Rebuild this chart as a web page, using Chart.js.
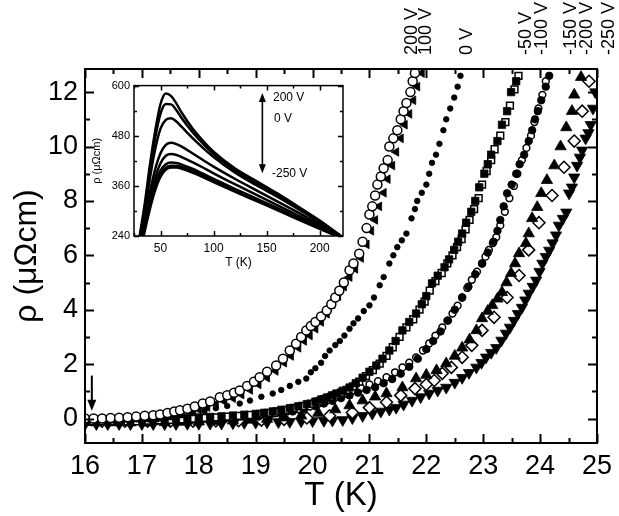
<!DOCTYPE html>
<html>
<head>
<meta charset="utf-8">
<script src="https://cdn.jsdelivr.net/npm/chart.js@4.4.1/dist/chart.umd.min.js"></script>
<style>
  html, body { margin: 0; padding: 0; background: #fff; }
  #wrap { position: relative; width: 619px; height: 516px; }
  #main { position: absolute; left: 0; top: 0; }
  #inset { position: absolute; left: 90px; top: 75px; }
</style>
</head>
<body>
<div id="wrap">
  <canvas id="main" width="619" height="516"></canvas>
  <canvas id="inset" width="260" height="200"></canvas>
</div>
<script>
const FONT = "'Liberation Sans', Arial, sans-serif";

// main panel: rho (uOhm cm) vs T (K), one list of [T, rho] per gate voltage
const s200 = [[16.0,0.0],[16.15,0.0],[16.3,0.0],[16.45,0.02],[16.6,0.03],[16.75,0.05],[16.9,0.07],[17.05,0.1],[17.2,0.12],[17.32,0.15],[17.45,0.2],[17.57,0.26],[17.67,0.3],[17.8,0.36],[17.93,0.44],[18.07,0.55],[18.2,0.63],[18.37,0.78],[18.5,0.86],[18.62,0.95],[18.72,1.03],[18.85,1.2],[18.97,1.35],[19.07,1.52],[19.2,1.72],[19.36,1.95],[19.48,2.2],[19.6,2.5],[19.71,2.75],[19.8,3.0],[19.89,3.24],[19.97,3.4],[20.05,3.55],[20.15,3.75],[20.25,3.97],[20.33,4.2],[20.4,4.45],[20.47,4.7],[20.55,5.0],[20.65,5.45],[20.72,5.7],[20.82,6.06],[20.88,6.5],[20.95,7.0],[21.0,7.5],[21.05,7.8],[21.1,8.2],[21.14,8.6],[21.2,8.9],[21.25,9.2],[21.32,9.5],[21.35,10.0],[21.42,10.3],[21.49,10.6],[21.55,11.0],[21.6,11.3],[21.65,11.6],[21.72,12.0],[21.76,12.4],[21.8,12.7]];
const s100 = [[16.05,-0.1],[16.2,-0.1],[16.35,-0.1],[16.5,-0.08],[16.65,-0.07],[16.8,-0.05],[16.95,-0.03],[17.1,0.0],[17.25,0.03],[17.4,0.07],[17.55,0.12],[17.7,0.18],[17.85,0.25],[18.0,0.33],[18.15,0.42],[18.3,0.52],[18.45,0.63],[18.6,0.75],[18.75,0.88],[18.9,1.05],[19.05,1.25],[19.2,1.5],[19.35,1.75],[19.5,2.05],[19.62,2.3],[19.75,2.6],[19.85,2.85],[19.95,3.05],[20.05,3.3],[20.15,3.55],[20.25,3.85],[20.35,4.2],[20.45,4.5],[20.55,4.85],[20.65,5.2],[20.75,5.5],[20.85,5.9],[20.95,6.4],[21.03,6.9],[21.1,7.3],[21.17,7.8],[21.25,8.3],[21.32,8.8],[21.4,9.3],[21.47,9.8],[21.55,10.3],[21.62,10.8],[21.7,11.2],[21.77,11.7],[21.84,12.2],[21.92,12.7]];
const s0 = [[16.1,-0.05],[16.3,-0.05],[16.5,-0.05],[16.7,-0.04],[16.9,-0.03],[17.1,-0.02],[17.3,0.0],[17.5,0.05],[17.7,0.12],[17.9,0.2],[18.1,0.28],[18.3,0.38],[18.5,0.46],[18.72,0.55],[18.9,0.66],[19.1,0.8],[19.3,0.92],[19.45,1.05],[19.6,1.2],[19.75,1.35],[19.89,1.47],[19.97,1.7],[20.05,1.85],[20.15,2.05],[20.22,2.3],[20.3,2.5],[20.4,2.7],[20.48,2.85],[20.56,3.05],[20.65,3.3],[20.72,3.5],[20.8,3.68],[20.9,3.95],[21.0,4.16],[21.08,4.45],[21.18,4.9],[21.25,5.2],[21.35,5.7],[21.42,6.0],[21.49,6.3],[21.57,6.55],[21.65,6.8],[21.74,7.36],[21.8,7.7],[21.84,8.0],[21.92,8.3],[22.0,8.6],[22.05,9.0],[22.1,9.4],[22.17,9.7],[22.23,10.1],[22.3,10.6],[22.35,11.0],[22.42,11.4],[22.49,11.8],[22.55,12.2],[22.6,12.6]];
const sm50a = [[16.0,-0.05],[16.2,-0.05],[16.4,-0.05],[16.6,-0.05],[16.8,-0.05],[17.0,-0.04],[17.2,-0.03],[17.4,-0.02],[17.6,0.0],[17.8,0.02],[18.0,0.04],[18.2,0.06],[18.4,0.08],[18.6,0.11],[18.8,0.14],[19.0,0.17],[19.15,0.21],[19.3,0.26],[19.45,0.32],[19.6,0.38],[19.75,0.45],[19.9,0.53],[20.05,0.62],[20.15,0.7],[20.25,0.77],[20.34,0.85],[20.42,0.92],[20.53,1.02],[20.65,1.14],[20.76,1.3],[20.88,1.5],[21.0,1.72],[21.12,1.95],[21.23,2.2],[21.35,2.5],[21.46,2.85],[21.58,3.24],[21.7,3.55],[21.82,3.86],[21.92,4.2],[22.0,4.5],[22.1,4.97],[22.2,5.25],[22.32,5.56],[22.4,5.85],[22.49,6.2],[22.56,6.5],[22.63,6.8],[22.7,7.2],[22.79,7.6],[22.86,8.0],[22.93,8.5],[23.02,9.0],[23.08,9.35],[23.14,9.7],[23.25,10.2],[23.33,10.8],[23.42,11.3],[23.49,12.0],[23.58,12.4]];
const sm50b = [[16.1,-0.1],[16.3,-0.1],[16.5,-0.1],[16.7,-0.1],[16.9,-0.1],[17.1,-0.08],[17.3,-0.07],[17.5,-0.05],[17.7,-0.03],[17.9,0.0],[18.1,0.02],[18.3,0.04],[18.5,0.07],[18.7,0.1],[18.9,0.13],[19.08,0.17],[19.22,0.21],[19.37,0.26],[19.52,0.32],[19.67,0.39],[19.82,0.46],[19.97,0.55],[20.1,0.63],[20.2,0.71],[20.3,0.78],[20.4,0.86],[20.5,0.95],[20.6,1.05],[20.71,1.18],[20.82,1.36],[20.94,1.56],[21.06,1.78],[21.18,2.02],[21.3,2.3],[21.41,2.62],[21.53,3.0],[21.65,3.35],[21.77,3.65],[21.88,4.0],[21.97,4.3],[22.06,4.7],[22.16,5.05],[22.27,5.35],[22.37,5.7],[22.46,6.0],[22.54,6.3],[22.62,6.6],[22.69,6.95],[22.76,7.3],[22.84,7.7],[22.92,8.1],[22.98,8.6],[23.06,9.1],[23.14,9.5],[23.2,9.9],[23.3,10.4],[23.39,10.9],[23.47,11.5],[23.55,12.1],[23.62,12.6]];
const sm100a = [[16.05,-0.12],[16.25,-0.12],[16.45,-0.12],[16.65,-0.12],[16.85,-0.12],[17.05,-0.11],[17.25,-0.1],[17.45,-0.1],[17.65,-0.09],[17.85,-0.08],[18.05,-0.06],[18.25,-0.04],[18.45,-0.02],[18.65,0.0],[18.85,0.03],[19.05,0.07],[19.25,0.12],[19.45,0.18],[19.65,0.26],[19.85,0.35],[20.05,0.45],[20.2,0.55],[20.35,0.65],[20.5,0.75],[20.65,0.85],[20.8,0.95],[20.95,1.05],[21.1,1.15],[21.25,1.3],[21.4,1.45],[21.55,1.65],[21.7,1.9],[21.85,2.2],[22.0,2.55],[22.12,2.85],[22.25,3.2],[22.38,3.6],[22.5,4.0],[22.63,4.45],[22.74,4.85],[22.86,5.3],[22.98,5.7],[23.08,6.1],[23.18,6.5],[23.25,6.9],[23.3,7.3],[23.36,7.8],[23.42,8.28],[23.5,8.6],[23.58,9.0],[23.64,9.35],[23.72,9.7],[23.8,10.2],[23.86,10.6],[23.91,11.0],[23.96,11.3],[24.02,11.7],[24.1,12.2],[24.16,12.6]];
const sm100b = [[16.15,-0.05],[16.35,-0.05],[16.55,-0.05],[16.75,-0.05],[16.95,-0.05],[17.15,-0.04],[17.35,-0.04],[17.55,-0.03],[17.75,-0.02],[17.95,-0.01],[18.15,0.0],[18.35,0.02],[18.55,0.04],[18.75,0.07],[18.95,0.1],[19.15,0.14],[19.35,0.19],[19.55,0.26],[19.75,0.34],[19.95,0.44],[20.1,0.54],[20.25,0.66],[20.4,0.78],[20.55,0.9],[20.7,1.02],[20.85,1.13],[21.0,1.25],[21.15,1.37],[21.3,1.52],[21.45,1.7],[21.58,1.88],[21.7,2.05],[21.82,2.25],[21.94,2.5],[22.05,2.76],[22.16,3.05],[22.28,3.35],[22.37,3.6],[22.46,3.86],[22.55,4.15],[22.63,4.45],[22.72,4.8],[22.8,5.1],[22.89,5.4],[22.98,5.7],[23.04,5.95],[23.1,6.2],[23.17,6.45],[23.23,6.67],[23.3,7.1],[23.38,7.6],[23.46,8.1],[23.54,8.55],[23.6,9.0],[23.68,9.5],[23.76,9.95],[23.84,10.4],[23.9,10.9],[23.97,11.4],[24.04,11.9],[24.1,12.4]];
const sm150 = [[16.2,-0.15],[16.5,-0.15],[16.8,-0.15],[17.1,-0.15],[17.4,-0.14],[17.7,-0.13],[18.0,-0.12],[18.3,-0.1],[18.6,-0.08],[18.9,-0.05],[19.2,-0.02],[19.5,0.03],[19.8,0.1],[20.1,0.2],[20.4,0.33],[20.65,0.48],[20.88,0.66],[21.1,0.8],[21.3,0.92],[21.58,1.14],[21.82,1.47],[22.0,1.6],[22.18,1.77],[22.35,2.02],[22.5,2.3],[22.63,2.6],[22.76,2.9],[22.88,3.24],[22.98,3.68],[23.08,3.95],[23.16,4.16],[23.25,4.4],[23.33,4.64],[23.41,5.0],[23.49,5.34],[23.56,5.7],[23.63,6.07],[23.75,6.44],[23.8,6.8],[23.86,7.36],[23.95,7.77],[24.02,8.28],[24.12,8.76],[24.25,9.3],[24.36,10.0],[24.46,10.7],[24.56,11.3],[24.6,11.9],[24.72,12.55]];
const sm200 = [[16.3,-0.1],[16.7,-0.1],[17.1,-0.1],[17.5,-0.1],[17.9,-0.1],[18.3,-0.09],[18.7,-0.08],[19.1,-0.06],[19.5,-0.03],[19.9,0.02],[20.3,0.1],[20.7,0.22],[21.0,0.4],[21.3,0.6],[21.55,0.85],[21.8,1.1],[22.0,1.25],[22.14,1.4],[22.28,1.66],[22.44,1.88],[22.63,2.25],[22.8,2.69],[22.98,3.24],[23.19,3.72],[23.42,4.45],[23.63,5.26],[23.8,6.2],[23.98,7.2],[24.21,8.2],[24.42,9.24],[24.6,10.2],[24.74,11.3],[24.86,12.4]];
const sm250 = [[16.0,-0.2],[16.2,-0.2],[16.4,-0.2],[16.6,-0.2],[16.8,-0.2],[17.0,-0.2],[17.2,-0.2],[17.4,-0.2],[17.6,-0.2],[17.8,-0.19],[18.0,-0.19],[18.2,-0.18],[18.4,-0.18],[18.6,-0.17],[18.8,-0.16],[19.0,-0.15],[19.2,-0.14],[19.4,-0.13],[19.6,-0.12],[19.8,-0.1],[20.0,-0.09],[20.2,-0.08],[20.35,-0.07],[20.53,-0.05],[20.7,0.02],[20.88,0.1],[21.05,0.18],[21.2,0.26],[21.35,0.33],[21.47,0.4],[21.6,0.52],[21.75,0.66],[21.9,0.79],[22.05,0.92],[22.2,1.03],[22.35,1.14],[22.5,1.32],[22.63,1.5],[22.75,1.68],[22.88,1.88],[22.97,2.05],[23.05,2.25],[23.14,2.42],[23.23,2.6],[23.32,2.87],[23.4,3.13],[23.47,3.35],[23.54,3.6],[23.61,3.85],[23.68,4.08],[23.74,4.35],[23.8,4.6],[23.87,4.85],[23.93,5.08],[23.99,5.4],[24.04,5.7],[24.1,5.95],[24.16,6.18],[24.22,6.45],[24.28,6.74],[24.33,7.1],[24.4,7.35],[24.46,7.58],[24.51,8.28],[24.56,8.5],[24.6,8.87],[24.65,9.3],[24.7,9.6],[24.74,9.86],[24.8,10.3],[24.85,10.5],[24.89,10.8],[24.93,11.4],[24.97,12.0]];

const yTickVals = [0, 2, 4, 6, 8, 10, 12];

// voltage labels above the frame, anchored at the T where each curve leaves the top
const voltLabels = ['200 V', '100 V', '0 V', '-50 V', '-100 V', '-150 V', '-200 V', '-250 V'];
const voltLabelT = [21.74, 22.0, 22.72, 23.75, 24.04, 24.54, 24.82, 25.21];

// inset: rho (uOhm cm) vs T (K), 200 V down to -250 V
const insetT = [30, 35, 40, 45, 50, 55, 60, 65, 70, 80, 90, 100, 120, 140, 160, 180, 200, 220];
const c200  = [235, 315, 410, 492, 556, 581, 575, 557, 535, 498, 468, 442, 402, 372, 342, 310, 277, 240];
const c100  = [228, 305, 395, 475, 533, 556, 555, 541, 522, 489, 461, 436, 398, 367, 338, 307, 275, 240];
const c0    = [222, 295, 378, 448, 497, 518, 522, 514, 501, 475, 451, 429, 392, 362, 334, 304, 273, 240];
const cm50  = [210, 280, 345, 400, 438, 458, 463, 460, 454, 438, 422, 406, 377, 350, 323, 296, 268, 240];
const cm100 = [205, 272, 330, 380, 414, 432, 436, 434, 429, 417, 404, 390, 364, 339, 314, 289, 264, 239];
const cm150 = [198, 265, 320, 365, 397, 412, 416, 415, 411, 401, 389, 377, 353, 330, 307, 284, 261, 238];
const cm200 = [192, 258, 312, 357, 389, 404, 408, 408, 405, 395, 384, 372, 349, 327, 304, 281, 259, 237];
const cm250 = [185, 250, 305, 350, 382, 399, 404, 404, 401, 392, 381, 369, 346, 324, 302, 279, 257, 236];
const insetYTicks = [240, 360, 480, 600];

function pts(arr) { return arr.map(([x, y]) => ({ x, y })); }

function markers(data, style, radius, filled, rotation) {
  return {
    data: pts(data),
    pointStyle: style,
    pointRadius: radius,
    pointRotation: rotation || 0,
    pointBackgroundColor: filled ? '#000' : '#fff',
    pointBorderColor: '#000',
    pointBorderWidth: filled ? 0.8 : 1.5,
    showLine: false,
    clip: 1
  };
}

function tickMarks(from, to, step, majorEvery) {
  const out = [];
  const n = Math.round((to - from) / step);
  for (let i = 0; i <= n; i++) {
    const v = from + i * step;
    const r = v / majorEvery;
    out.push({ v, major: Math.abs(r - Math.round(r)) < 1e-6 });
  }
  return out;
}

// box around the plot area with ticks pointing inwards on all four sides
function drawFrame(chart, xt, yt, major, minor, lw) {
  const { ctx, chartArea: a, scales: { x, y } } = chart;
  ctx.save();
  ctx.strokeStyle = '#000';
  ctx.lineWidth = lw;
  ctx.strokeRect(a.left, a.top, a.right - a.left, a.bottom - a.top);
  ctx.beginPath();
  xt.forEach(t => {
    const px = Math.round(x.getPixelForValue(t.v)) + 0.5;
    const len = t.major ? major : minor;
    ctx.moveTo(px, a.bottom); ctx.lineTo(px, a.bottom - len);
    ctx.moveTo(px, a.top); ctx.lineTo(px, a.top + len);
  });
  yt.forEach(t => {
    const py = Math.round(y.getPixelForValue(t.v)) + 0.5;
    const len = t.major ? major : minor;
    ctx.moveTo(a.left, py); ctx.lineTo(a.left + len, py);
    ctx.moveTo(a.right, py); ctx.lineTo(a.right - len, py);
  });
  ctx.stroke();
  ctx.restore();
}

function arrowHead(ctx, x, tipY, dir, w, h) {
  ctx.beginPath();
  ctx.moveTo(x, tipY);
  ctx.lineTo(x - w / 2, tipY - dir * h);
  ctx.lineTo(x + w / 2, tipY - dir * h);
  ctx.closePath();
  ctx.fill();
}

const mainDecor = {
  id: 'mainDecor',
  afterDraw(chart) {
    const { ctx, scales: { x, y } } = chart;
    drawFrame(chart, tickMarks(16, 25, 0.5, 1), tickMarks(0, 12, 1, 2), 9, 5, 2);

    // arrow marking the start of the data
    const ax = x.getPixelForValue(16.12);
    const top = y.getPixelForValue(1.58), tip = y.getPixelForValue(0.29);
    ctx.save();
    ctx.strokeStyle = '#000'; ctx.fillStyle = '#000'; ctx.lineWidth = 2;
    ctx.beginPath(); ctx.moveTo(ax, top); ctx.lineTo(ax, tip - 8); ctx.stroke();
    arrowHead(ctx, ax, tip, 1, 9, 11);

    ctx.font = '18px ' + FONT;
    ctx.textAlign = 'left';
    ctx.textBaseline = 'middle';
    voltLabels.forEach((t, i) => {
      ctx.save();
      ctx.translate(x.getPixelForValue(voltLabelT[i]), 55);
      ctx.rotate(-Math.PI / 2);
      ctx.fillText(t, 0, 0);
      ctx.restore();
    });
    ctx.restore();
  }
};

new Chart(document.getElementById('main'), {
  type: 'scatter',
  data: {
    datasets: [
      markers(s200, 'circle', 4.5, false),
      markers(s100, 'triangle', 5, true, -90),
      markers(s0, 'circle', 2.8, true),
      markers(sm50a, 'rect', 5.2, true),
      markers(sm50b, 'rect', 4.8, false),
      markers(sm100a, 'circle', 3.8, true),
      markers(sm100b, 'circle', 3.4, false),
      markers(sm150, 'triangle', 6.5, true),
      markers(sm200, 'rectRot', 6, false),
      markers(sm250, 'triangle', 6.5, true, 180)
    ]
  },
  options: {
    responsive: false,
    animation: false,
    events: [],
    layout: { padding: { top: 69, right: 21, left: 0, bottom: 0 } },
    plugins: { legend: { display: false }, tooltip: { enabled: false } },
    scales: {
      x: {
        type: 'linear', min: 16, max: 25,
        ticks: { stepSize: 1, color: '#000', font: { family: FONT, size: 27 }, padding: 7, maxRotation: 0, autoSkip: false },
        grid: { display: false, drawTicks: false },
        border: { display: false },
        title: { display: true, text: 'T (K)', color: '#000', font: { family: FONT, size: 33 }, padding: { top: 0, bottom: 0 } },
        afterFit: s => { s.height = 73; }
      },
      y: {
        type: 'linear', min: -0.9, max: 12.85,
        afterBuildTicks: s => { s.ticks = yTickVals.map(v => ({ value: v })); },
        ticks: { color: '#000', font: { family: FONT, size: 27 }, padding: 7 },
        grid: { display: false, drawTicks: false },
        border: { display: false },
        title: { display: true, text: 'ρ (μΩcm)', color: '#000', font: { family: FONT, size: 32 }, padding: { top: 8, bottom: 0 } },
        afterFit: s => { s.width = 85; }
      }
    }
  },
  plugins: [mainDecor]
});

const insetDecor = {
  id: 'insetDecor',
  beforeDraw(chart) {
    const { ctx, chartArea: a } = chart;
    ctx.save();
    ctx.fillStyle = '#fff';
    ctx.fillRect(a.left, a.top, a.right - a.left, a.bottom - a.top);
    ctx.restore();
  },
  afterDraw(chart) {
    const { ctx, scales: { x, y } } = chart;
    drawFrame(chart, tickMarks(25, 200, 25, 50), tickMarks(240, 600, 60, 120), 5, 3, 1.5);

    const ax = x.getPixelForValue(146);
    const up = y.getPixelForValue(582), down = y.getPixelForValue(390);
    ctx.save();
    ctx.strokeStyle = '#000'; ctx.fillStyle = '#000'; ctx.lineWidth = 1.6;
    ctx.beginPath(); ctx.moveTo(ax, up + 8); ctx.lineTo(ax, down - 8); ctx.stroke();
    arrowHead(ctx, ax, up, -1, 7, 9);
    arrowHead(ctx, ax, down, 1, 7, 9);
    ctx.font = '12px ' + FONT;
    ctx.textAlign = 'left';
    ctx.textBaseline = 'middle';
    const lx = x.getPixelForValue(156);
    ctx.fillText('200 V', lx, y.getPixelForValue(572));
    ctx.fillText('0 V', lx + 1, y.getPixelForValue(520));
    ctx.fillText('-250 V', lx - 1, y.getPixelForValue(389));
    ctx.restore();
  }
};

function curve(vals) {
  return {
    data: insetT.map((t, i) => ({ x: t, y: vals[i] })),
    showLine: true,
    borderColor: '#000',
    borderWidth: 2.5,
    pointRadius: 0,
    cubicInterpolationMode: 'monotone'
  };
}

new Chart(document.getElementById('inset'), {
  type: 'scatter',
  data: { datasets: [c200, c100, c0, cm50, cm100, cm150, cm200, cm250].map(curve) },
  options: {
    responsive: false,
    animation: false,
    events: [],
    layout: { padding: { top: 9, right: 7, left: 0, bottom: 0 } },
    plugins: { legend: { display: false }, tooltip: { enabled: false } },
    scales: {
      x: {
        type: 'linear', min: 25, max: 222,
        afterBuildTicks: s => { s.ticks = [50, 100, 150, 200].map(v => ({ value: v })); },
        ticks: { color: '#000', font: { family: FONT, size: 12 }, padding: 5, maxRotation: 0 },
        grid: { display: false, drawTicks: false },
        border: { display: false },
        title: { display: true, text: 'T (K)', color: '#000', font: { family: FONT, size: 12 }, padding: { top: 0, bottom: 5 } },
        afterFit: s => { s.height = 39; }
      },
      y: {
        type: 'linear', min: 240, max: 600,
        afterBuildTicks: s => { s.ticks = insetYTicks.map(v => ({ value: v })); },
        ticks: { color: '#000', font: { family: FONT, size: 11 }, padding: 4 },
        grid: { display: false, drawTicks: false },
        border: { display: false },
        title: { display: true, text: 'ρ (μΩcm)', color: '#000', font: { family: FONT, size: 11 }, padding: { top: 0, bottom: 0 } },
        afterFit: s => { s.width = 44; }
      }
    }
  },
  plugins: [insetDecor]
});
</script>
</body>
</html>
